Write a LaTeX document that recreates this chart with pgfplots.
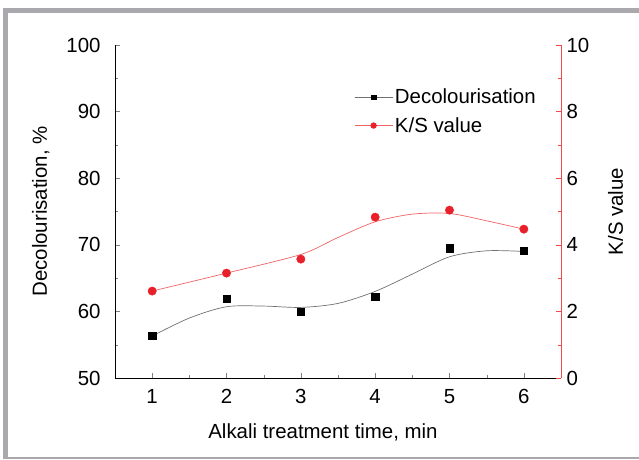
\documentclass[border=0pt]{standalone}
\usepackage{fontspec}
\setmainfont{Liberation Sans}
\usepackage{pgfplots}
\pgfplotsset{compat=1.18}
\definecolor{framegray}{HTML}{A9A9AD}
\definecolor{ksred}{HTML}{E8202A}
\definecolor{ksaxis}{HTML}{F24A4A}
\definecolor{ksline}{HTML}{F06464}
\definecolor{decline}{HTML}{707070}
\newcommand{\lblfont}{\fontsize{20.5}{23}\selectfont}

\begin{document}
\begin{tikzpicture}[x=1bp,y=1bp]
\path[use as bounding box] (-115,-82) rectangle (524,378);
% outer frame
\fill[framegray] (-112,365) rectangle (524,370);
\fill[framegray] (-112,-81) rectangle (-107,370);
\fill[framegray] (-112,-81) rectangle (524,-79);

\pgfplotsset{
  common/.style={
    scale only axis, width=446bp, height=333bp,
    at={(0,0)}, anchor=south west,
    xmin=0.5, xmax=6.5,
    tick align=inside,
    major tick length=5bp, minor tick length=3bp,
    /pgf/number format/assume math mode=true,
    tick label style={font=\lblfont},
    label style={font=\lblfont},
  }
}

\begin{axis}[common,
  axis x line*=bottom, axis y line*=left,
  ymin=50, ymax=100,
  ytick={50,60,70,80,90,100}, minor ytick={55,65,75,85,95},
  xtick={1,2,3,4,5,6}, minor xtick={1.5,2.5,3.5,4.5,5.5},
  xlabel={Alkali treatment time, min},
  ylabel={Decolourisation, \%},
  yticklabel style={xshift=-11bp},
  xticklabel style={yshift=-8bp},
  xlabel style={yshift=-13bp, xshift=-15bp},
  ylabel style={yshift=10bp},
]
% fitted curve
\addplot[decline, line width=0.7bp, smooth] coordinates {
  (1,56.3) (1.5,59.0) (2,60.7) (2.5,60.8) (3,60.6) (3.5,61.2)
  (4,63.0) (4.5,65.6) (5,68.2) (5.5,69.1) (6,69.0)};
% measured values
\addplot[only marks, mark=square*, mark size=3.6bp, black] coordinates {
  (1,56.3) (2,61.9) (3,59.9) (4,62.2) (5,69.5) (6,69.1)};
\end{axis}

\begin{axis}[common,
  axis x line=none, axis y line*=right,
  y axis line style={ksaxis},
  ytick style={ksaxis},
  ymin=0, ymax=10,
  ytick={0,2,4,6,8,10}, minor ytick={1,3,5,7,9},
  ylabel={K/S value},
  yticklabel style={xshift=2bp},
  ylabel style={yshift=-12bp},
  legend style={draw=none, fill=none, at={(0.536,0.874)}, anchor=north west,
    font=\lblfont, row sep=8bp, inner sep=0pt,
    /tikz/every even column/.append style={column sep=3bp}},
  legend cell align=left,
  legend image code/.code={
    \draw[#1, mark repeat=2, mark phase=2] plot coordinates {(0bp,0bp) (19bp,0bp) (38bp,0bp)};},
]
\addlegendimage{decline, line width=0.7bp, mark=square*, mark size=2.4bp, mark options={black}}
\addlegendentry{Decolourisation}
\addlegendimage{ksline, line width=0.7bp, mark=*, mark size=2.8bp, mark options={ksred}}
\addlegendentry{K/S value}
% fitted curve
\addplot[ksline, line width=0.7bp, smooth] coordinates {
  (1,2.61) (2,3.15) (3,3.71) (3.5,4.22) (4,4.69) (4.5,4.92)
  (5,4.94) (5.5,4.72) (6,4.47)};
% measured values
\addplot[only marks, mark=*, mark size=4.2bp, ksred] coordinates {
  (1,2.61) (2,3.15) (3,3.57) (4,4.83) (5,5.04) (6,4.47)};
\end{axis}
\end{tikzpicture}
\end{document}
